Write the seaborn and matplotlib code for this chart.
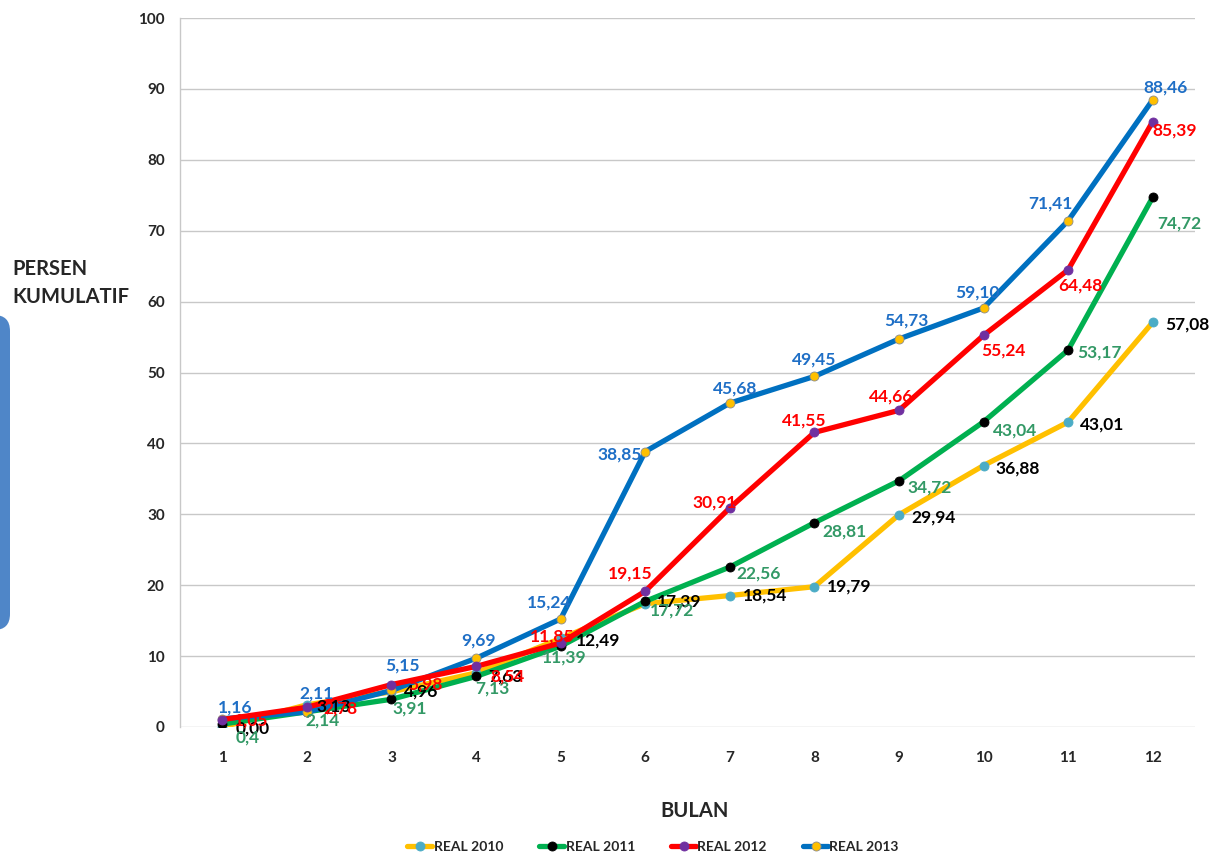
import matplotlib
matplotlib.use("Agg")
import matplotlib.pyplot as plt
from matplotlib.patches import FancyBboxPatch
from matplotlib.transforms import IdentityTransform
import seaborn as sns
import pandas as pd

# Cumulative realisation (%) per month
bulan = list(range(1, 13))
real_2010 = [0.00, 3.13, 4.96, 7.63, 12.49, 17.39, 18.54, 19.79, 29.94, 36.88, 43.01, 57.08]
real_2011 = [0.41, 2.14, 3.91, 7.13, 11.39, 17.72, 22.56, 28.81, 34.72, 43.04, 53.17, 74.72]
real_2012 = [1.05, 2.78, 5.98, 8.54, 11.85, 19.15, 30.91, 41.55, 44.66, 55.24, 64.48, 85.39]
real_2013 = [1.16, 2.11, 5.15, 9.69, 15.24, 38.85, 45.68, 49.45, 54.73, 59.10, 71.41, 88.46]
series_names = ["REAL 2010", "REAL 2011", "REAL 2012", "REAL 2013"]
y_ticks = list(range(0, 101, 10))

sns.set_theme(style="white")
plt.rcParams["font.family"] = ["Lato", "DejaVu Sans"]
plt.rcParams["font.weight"] = "bold"

# label placement in pixels: (dx, dy, ha)
label_pos = {
    "REAL 2010": [(13, -2, "left"), (10, -2, "left"), (13, 0, "left"), (12, -4, "left"),
                  (15, -2, "left"), (12, 2, "left"), (13, 0, "left"), (13, 0, "left"),
                  (12, -3, "left"), (12, -3, "left"), (12, -2, "left"), (12, -2, "left")],
    "REAL 2011": [(13, -13, "left"), (-1, -9, "left"), (1, -9, "left"), (-1, -12, "left"),
                  (-19, -11, "left"), (5, -9, "left"), (7, -6, "left"), (8, -9, "left"),
                  (8, -7, "left"), (9, -9, "left"), (9, -2, "left"), (5, -26, "left")],
    "REAL 2012": [(12, -1, "left"), (16, -1, "left"), (17, 0, "left"), (14, -10, "left"),
                  (-8, 6, "center"), (-15, 18, "center"), (7, 5, "right"), (-10, 12, "center"),
                  (-8, 14, "center"), (-2, -15, "left"), (-10, -16, "left"), (0, -9, "left")],
    "REAL 2013": [(13, 11, "center"), (10, 19, "center"), (11, 25, "center"), (2, 18, "center"),
                  (-12, 16, "center"), (-3, -3, "right"), (5, 15, "center"), (0, 17, "center"),
                  (7, 18, "center"), (-6, 15, "center"), (-18, 17, "center"), (13, 12, "center")],
}

styles = {
    "REAL 2010": dict(line="#FFC000", marker="#4BACC6", edge="#4BACC6", text="#000000"),
    "REAL 2011": dict(line="#00B050", marker="#000000", edge="#000000", text="#339966"),
    "REAL 2012": dict(line="#FF0000", marker="#7030A0", edge="#7030A0", text="#FF0000"),
    "REAL 2013": dict(line="#0070C0", marker="#FFC000", edge="#8C8C8C", text="#1F6FC6"),
}

df = pd.DataFrame({
    "Bulan": bulan * 4,
    "Persen": real_2010 + real_2011 + real_2012 + real_2013,
    "Seri": [s for s in series_names for _ in bulan],
})

fig = plt.figure(figsize=(12.13, 8.61), dpi=100)
ax = fig.add_axes([180 / 1213, 1 - 727 / 861, (1195 - 180) / 1213, (727 - 18) / 861])

draw_order = ["REAL 2010", "REAL 2011", "REAL 2013", "REAL 2012"]
handles = {}
for z, name in enumerate(draw_order):
    st = styles[name]
    sub = df[df["Seri"] == name]
    sns.lineplot(data=sub, x="Bulan", y="Persen", ax=ax, color=st["line"], linewidth=3.8,
                 marker="o", markersize=6.5, markerfacecolor=st["marker"],
                 markeredgecolor=st["edge"], markeredgewidth=0.6, label=name,
                 zorder=3 + z)
    handles[name] = ax.lines[-1]

for name in series_names:
    st = styles[name]
    vals = df[df["Seri"] == name]["Persen"].tolist()
    for m, v, (dx, dy, ha) in zip(bulan, vals, label_pos[name]):
        txt = f"{v:.2f}".replace(".", ",")
        if name == "REAL 2011" and m == 1:
            txt = "0,4"
        ax.annotate(txt, (m, v), xytext=(dx, dy), textcoords="offset pixels",
                    ha=ha, va="center", color=st["text"], fontsize=12.5,
                    fontweight="bold", zorder=10)

if ax.get_legend() is not None:
    ax.get_legend().remove()

ax.set_xlim(0.5, 12.5)
ax.set_ylim(0, 100)
ax.set_xticks(bulan)
ax.set_yticks(y_ticks)
ax.tick_params(axis="both", length=0, labelsize=11)
ax.tick_params(axis="y", pad=11)
ax.tick_params(axis="x", pad=17)
for lbl in ax.get_xticklabels() + ax.get_yticklabels():
    lbl.set_fontweight("bold")
ax.grid(axis="y", color="#C8C8C8", linewidth=1.0)
ax.set_axisbelow(True)
ax.set_xlabel("")
ax.set_ylabel("")
for side in ["top", "right", "bottom"]:
    ax.spines[side].set_visible(False)
ax.spines["left"].set_color("#C8C8C8")
ax.spines["left"].set_linewidth(1.0)

fig.text(695 / 1213, 1 - 811 / 861, "BULAN", ha="center", va="center",
         fontsize=14.5, fontweight="bold")
fig.text(12 / 1213, 1 - 283 / 861, "PERSEN\nKUMULATIF", ha="left", va="center",
         fontsize=14.5, fontweight="bold", linespacing=1.5)

# decorative side panel
box = FancyBboxPatch((-40, 861 - 630), 50, 315, boxstyle="round,pad=0,rounding_size=16",
                     transform=IdentityTransform(), facecolor="#4F86C8", edgecolor="none")
fig.patches.append(box)

fig.legend([handles[n] for n in series_names], series_names, loc="center",
           bbox_to_anchor=(653 / 1213, 1 - 847 / 861), ncol=4, frameon=False,
           prop={"weight": "bold", "size": 10}, handlelength=1.8, handletextpad=0.1,
           columnspacing=2.6)

fig.savefig("out.png", dpi=100)
